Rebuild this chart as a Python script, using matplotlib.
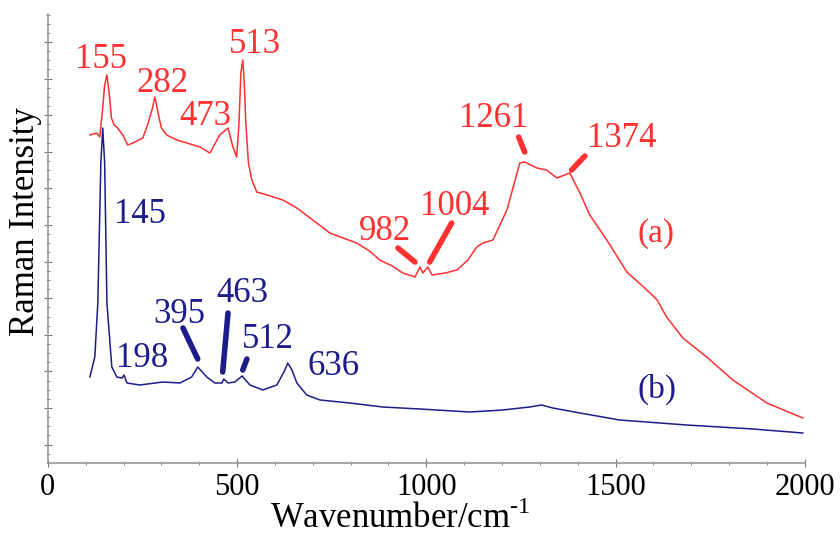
import numpy as np
import matplotlib
matplotlib.use('Agg')
import matplotlib.pyplot as plt
from matplotlib.ticker import MultipleLocator, AutoMinorLocator

plt.rcParams['font.family'] = ['Liberation Serif', 'DejaVu Serif']
plt.rcParams['mathtext.fontset'] = 'custom'
plt.rcParams['mathtext.rm'] = 'Liberation Serif'

# spectrum (a)
red_x = [111, 129, 137, 145, 150, 156, 162, 168, 175, 182, 198, 211, 225, 251, 265, 275, 283,
         290, 300, 314, 341, 367, 402, 428, 454, 476, 489, 499, 505, 510, 515, 519, 523, 530,
         539, 552, 579, 621, 658, 700, 745, 780, 816, 850, 877, 910, 938, 970, 983, 991, 1004,
         1015, 1050, 1081, 1110, 1133, 1150, 1176, 1213, 1247, 1260, 1292, 1318, 1345, 1379,
         1406, 1432, 1477, 1530, 1583, 1610, 1635, 1678, 1741, 1810, 1900, 1995]
red_y = [328, 330, 326, 355, 378, 388, 370, 345, 338, 336, 328, 318, 320, 325, 340, 353, 366,
         352, 335, 328, 323, 320, 316, 310, 328, 335, 316, 306, 340, 390, 403, 380, 340, 300,
         283, 271, 268, 263, 255, 243, 230, 225, 220, 212, 203, 197, 190, 186, 196, 190, 196,
         188, 190, 193, 203, 216, 220, 223, 253, 300, 301, 295, 293, 285, 290,
         270, 248, 223, 191, 173, 163, 146, 125, 106, 83, 60, 45]

# spectrum (b)
blue_x = [111, 124, 132, 140, 145, 150, 156, 169, 182, 196, 201, 209, 243, 304, 349, 380, 396,
          420, 441, 460, 465, 476, 494, 513, 534, 568, 605, 625, 634, 645, 658, 684, 719, 798,
          885, 983, 1115, 1202, 1273, 1305, 1334, 1406, 1511, 1688, 1863, 1995]
blue_y = [86, 106, 160, 300, 335, 300, 160, 96, 86, 85, 88, 80, 78, 81, 80, 86, 96,
          86, 80, 80, 84, 80, 81, 87, 78, 73, 78, 92, 100, 93, 80, 68, 63, 60,
          56, 54, 51, 53, 56, 58, 55, 50, 43, 38, 34, 30]

# peak labels: text, x, baseline y
red_labels = ['155', '282', '473', '513', '982', '1004', '1261', '1374']
red_lx = [141, 304, 415, 546, 891, 1076, 1178, 1516]
red_ly = [395, 371, 338, 410, 223, 248, 336, 316]
blue_labels = ['145', '198', '395', '463', '512', '636']
blue_lx = [243, 249, 348, 513, 581, 756]
blue_ly = [240, 96, 140, 161, 115, 88]

# leader lines (x0, y0, x1, y1)
red_leaders = [(925, 215, 970, 201), (1067, 240, 1009, 201),
               (1244, 326, 1260, 311), (1419, 307, 1384, 293)]
blue_leaders = [(357, 135, 396, 104), (476, 150, 462, 91), (526, 104, 515, 93)]

red = '#ff3030'
blue = '#1c1c8a'

fig = plt.figure(figsize=(8.4, 5.39), dpi=100)
ax = fig.add_axes([0.057, 0.141, 0.901, 0.833])

ax.plot(red_x, red_y, color=red, lw=1.1)
ax.plot(blue_x, blue_y, color=blue, lw=1.1)

for t, x, y in zip(red_labels, red_lx, red_ly):
    ax.text(x, y, t, color=red, fontsize=25, ha='center', va='baseline')
for t, x, y in zip(blue_labels, blue_lx, blue_ly):
    ax.text(x, y, t, color=blue, fontsize=25, ha='center', va='baseline')
for x0, y0, x1, y1 in red_leaders:
    ax.plot([x0, x1], [y0, y1], color=red, lw=4, solid_capstyle='round')
for x0, y0, x1, y1 in blue_leaders:
    ax.plot([x0, x1], [y0, y1], color=blue, lw=4, solid_capstyle='round')

ax.text(1607, 221, '(a)', color=red, fontsize=24, ha='center', va='baseline')
ax.text(1610, 65, '(b)', color=blue, fontsize=24, ha='center', va='baseline')

ax.set_xlim(0, 2000)
ax.set_ylim(0, 449)
ax.xaxis.set_major_locator(MultipleLocator(500))
ax.xaxis.set_minor_locator(MultipleLocator(100))
ax.set_yticks(np.arange(18.4, 449, 36.6))
ax.yaxis.set_minor_locator(AutoMinorLocator(4))
ax.set_yticklabels([])

for s in ['top', 'right']:
    ax.spines[s].set_visible(False)
for s in ['left', 'bottom']:
    ax.spines[s].set_color('#999999')
    ax.spines[s].set_linewidth(1.2)
ax.tick_params(which='major', direction='inout', length=6, color='#777777', labelsize=22, pad=4)
ax.tick_params(which='minor', direction='inout', length=3, color='#777777')

ax.set_xlabel('Wavenumber/cm$^{\\mathrm{\\text{-}1}}$', fontsize=25)
ax.set_ylabel('Raman Intensity', fontsize=25)
ax.xaxis.set_label_coords(0.465, -0.085)
ax.yaxis.set_label_coords(-0.008, 0.537)

fig.savefig('out.png', dpi=100)
